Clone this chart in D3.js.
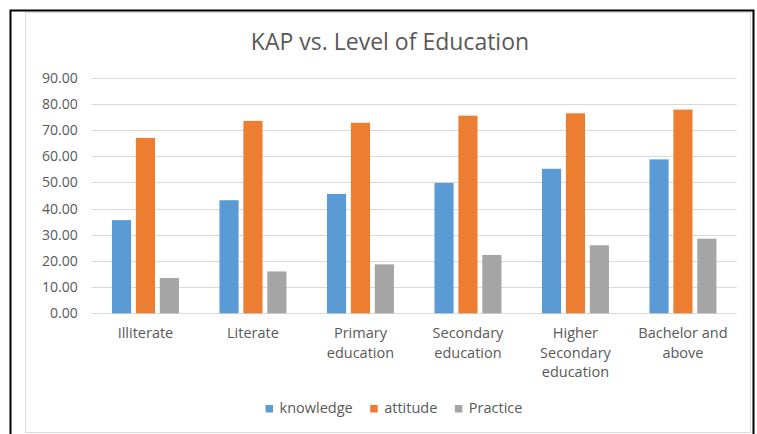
<!DOCTYPE html>
<html>
<head>
<meta charset="utf-8">
<script src="https://cdn.jsdelivr.net/npm/d3@7"></script>
<style>
  body { margin: 0; background: #fff; }
  svg { display: block; font-family: "Open Sans", sans-serif; }
</style>
</head>
<body>
<div id="chart"></div>
<script>
// Data
var categories = [
    ["Illiterate"],
    ["Literate"],
    ["Primary", "education"],
    ["Secondary", "education"],
    ["Higher", "Secondary", "education"],
    ["Bachelor and", "above"]
];
var seriesNames = ["knowledge", "attitude", "Practice"];
var knowledge = [35.6, 43.2, 45.6, 49.8, 55.2, 58.8];
var attitude  = [67.0, 73.5, 72.8, 75.5, 76.4, 77.8];
var practice  = [13.5, 16.0, 18.7, 22.3, 26.0, 28.5];
var yTicks = [0, 10, 20, 30, 40, 50, 60, 70, 80, 90];
var colors = ["#5b9bd5", "#ed7d31", "#a5a5a5"];

var W = 757, H = 434;
var svg = d3.select("#chart").append("svg")
    .attr("width", W)
    .attr("height", H);

// outer black frame (top, left, right)
svg.append("path")
    .attr("d", "M10.5,434 V10.5 H753.5 V434")
    .attr("fill", "none")
    .attr("stroke", "#000")
    .attr("stroke-width", 2);

// chart area border
svg.append("rect")
    .attr("x", 25.5).attr("y", 12.5)
    .attr("width", 725).attr("height", 420)
    .attr("fill", "#fff")
    .attr("stroke", "#d9d9d9");

// plot area (named so as not to clash with window.top)
var plotLeft = 91.7, plotRight = 736.7, plotTop = 77.7, plotBottom = 313.3;

var x0 = d3.scaleBand()
    .domain(d3.range(categories.length))
    .range([plotLeft, plotRight])
    .paddingInner(0.377)
    .paddingOuter(0.1885);

var x1 = d3.scaleBand()
    .domain(seriesNames)
    .range([0, x0.bandwidth()])
    .paddingInner(0.2);

var y = d3.scaleLinear().domain([0, 90]).range([plotBottom, plotTop]);

// gridlines
svg.append("g")
    .selectAll("line")
    .data(yTicks)
    .enter().append("line")
        .attr("x1", plotLeft).attr("x2", plotRight)
        .attr("y1", function(d) { return Math.round(y(d)) + 0.5; })
        .attr("y2", function(d) { return Math.round(y(d)) + 0.5; })
        .attr("stroke", "#d9d9d9")
        .attr("stroke-width", 1);

// y axis labels
var yAxis = svg.append("g")
    .attr("transform", "translate(" + (plotLeft - 14) + ",0)")
    .call(d3.axisLeft(y).tickValues(yTicks).tickFormat(d3.format(".2f")).tickSize(0).tickPadding(0));
yAxis.select(".domain").remove();
yAxis.selectAll("text")
    .attr("fill", "#595959")
    .style("font-size", "14px")
    .style("font-family", "Open Sans, sans-serif");

// bars
var table = categories.map(function(c, i) {
    return [knowledge[i], attitude[i], practice[i]];
});

var groups = svg.append("g")
    .selectAll("g")
    .data(table)
    .enter().append("g")
        .attr("transform", function(d, i) { return "translate(" + x0(i) + ",0)"; });

groups.selectAll("rect")
    .data(function(d) { return d.map(function(v, j) { return {name: seriesNames[j], value: v, k: j}; }); })
    .enter().append("rect")
        .attr("x", function(d) { return x1(d.name); })
        .attr("y", function(d) { return y(d.value); })
        .attr("width", x1.bandwidth())
        .attr("height", function(d) { return plotBottom - y(d.value); })
        .attr("fill", function(d) { return colors[d.k]; });

// category labels
var catLabels = svg.append("g")
    .selectAll("text")
    .data(categories)
    .enter().append("text")
        .attr("x", function(d, i) { return x0(i) + x0.bandwidth() / 2; })
        .attr("y", 338)
        .attr("text-anchor", "middle")
        .attr("fill", "#595959")
        .style("font-size", "14.5px");

catLabels.selectAll("tspan")
    .data(function(d) { return d; })
    .enter().append("tspan")
        .attr("x", function() { return d3.select(this.parentNode).attr("x"); })
        .attr("dy", function(d, i) { return i === 0 ? 0 : 19.7; })
        .text(function(d) { return d; });

// title
svg.append("text")
    .attr("x", 390)
    .attr("y", 50)
    .attr("text-anchor", "middle")
    .attr("fill", "#595959")
    .style("font-size", "23px")
    .text("KAP vs. Level of Education");

// legend
var legend = svg.append("g");
var items = legend.selectAll("g")
    .data(seriesNames)
    .enter().append("g");

items.append("rect")
    .attr("y", 405)
    .attr("width", 7.5)
    .attr("height", 7.5)
    .attr("fill", function(d, i) { return colors[i]; });

items.append("text")
    .attr("x", 14)
    .attr("y", 413.3)
    .attr("fill", "#595959")
    .style("font-size", "14.5px")
    .text(function(d) { return d; });

// lay out legend entries in a row and centre them
var pos = 0, offsets = [];
items.each(function() {
    var w = 14 + d3.select(this).select("text").node().getComputedTextLength();
    offsets.push(pos);
    pos += w + 17.5;
});
var total = pos - 17.5;
var start = 394 - total / 2;
items.attr("transform", function(d, i) { return "translate(" + (start + offsets[i]) + ",0)"; });
</script>
</body>
</html>
